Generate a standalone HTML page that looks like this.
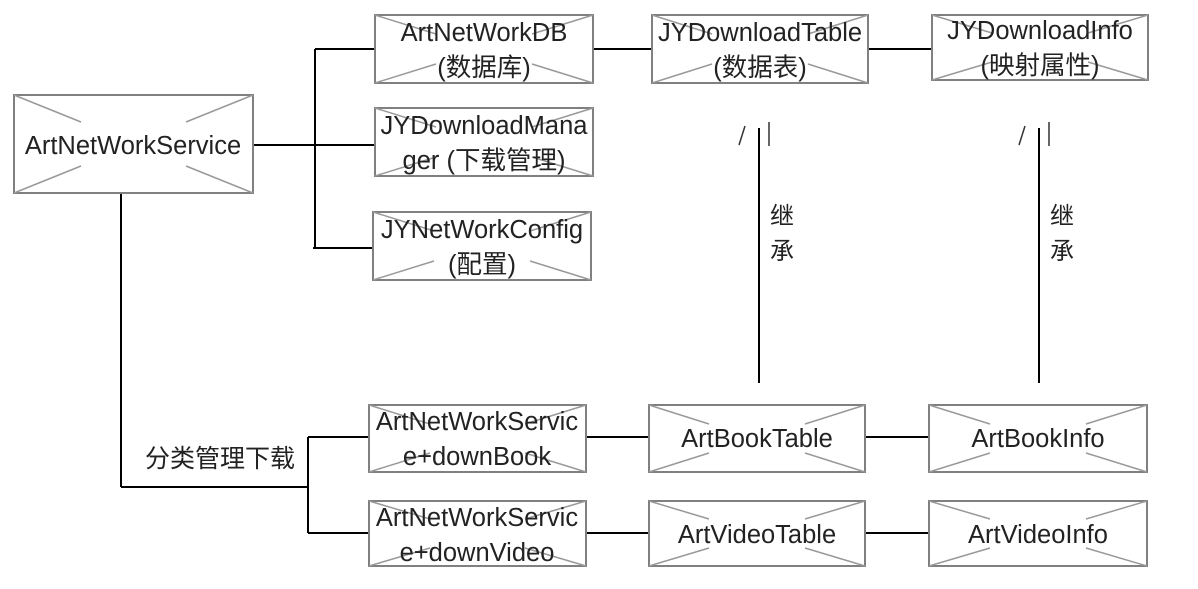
<!DOCTYPE html>
<html><head><meta charset="utf-8"><style>
html,body{margin:0;padding:0;background:#fff;}
svg text{font-family:"Liberation Sans","Noto Sans CJK SC",sans-serif;fill:#222;}
</style></head><body>
<svg width="1198" height="584" viewBox="0 0 1198 584" xmlns="http://www.w3.org/2000/svg">
<g stroke="#000" stroke-width="2" fill="none">
<line x1="253" y1="145" x2="375" y2="145"/>
<line x1="315" y1="49" x2="315" y2="248"/>
<line x1="315" y1="49" x2="375" y2="49"/>
<line x1="313" y1="248" x2="373" y2="248"/>
<line x1="593" y1="49" x2="652" y2="49"/>
<line x1="868" y1="49" x2="932" y2="49"/>
<line x1="759" y1="128" x2="759" y2="383"/>
<line x1="1039" y1="128" x2="1039" y2="383"/>
<line x1="121" y1="193" x2="121" y2="487"/>
<line x1="121" y1="487" x2="308" y2="487"/>
<line x1="308" y1="437" x2="308" y2="533"/>
<line x1="308" y1="437" x2="369" y2="437"/>
<line x1="308" y1="533" x2="369" y2="533"/>
<line x1="586" y1="437" x2="649" y2="437"/>
<line x1="865" y1="437" x2="929" y2="437"/>
<line x1="586" y1="533" x2="649" y2="533"/>
<line x1="865" y1="533" x2="929" y2="533"/>
</g>
<g stroke="#333" stroke-width="1.5">
<line x1="745" y1="126" x2="739" y2="145"/><line x1="769" y1="122" x2="769" y2="146"/>
<line x1="1025" y1="126" x2="1019" y2="145"/><line x1="1049" y1="122" x2="1049" y2="146"/>
</g>
<g font-size="24">
<text x="770" y="224">继</text><text x="770" y="259">承</text>
<text x="1050" y="224">继</text><text x="1050" y="259">承</text>
<text x="145" y="467" font-size="25">分类管理下载</text>
</g>
<g fill="#fff" stroke="#808080" stroke-width="2">
<rect x="14" y="95" width="239" height="98"/>
<rect x="375" y="15" width="218" height="68"/>
<rect x="375" y="108" width="218" height="68"/>
<rect x="373" y="212" width="218" height="68"/>
<rect x="652" y="15" width="216" height="68"/>
<rect x="932" y="15" width="216" height="65"/>
<rect x="369" y="405" width="217" height="67"/>
<rect x="649" y="405" width="216" height="67"/>
<rect x="929" y="405" width="218" height="67"/>
<rect x="369" y="501" width="217" height="65"/>
<rect x="649" y="501" width="216" height="65"/>
<rect x="929" y="501" width="218" height="65"/>
</g>
<g fill="none" stroke="#999" stroke-width="1.5">
<path d="M14 95l67 27M253 95l-67 27M14 193l67 -27M253 193l-67 -27"/>
<path d="M375 15l61 19M593 15l-61 19M375 83l61 -19M593 83l-61 -19"/>
<path d="M375 108l61 19M593 108l-61 19M375 176l61 -19M593 176l-61 -19"/>
<path d="M373 212l61 19M591 212l-61 19M373 280l61 -19M591 280l-61 -19"/>
<path d="M652 15l60 19M868 15l-60 19M652 83l60 -19M868 83l-60 -19"/>
<path d="M932 15l60 18M1148 15l-60 18M932 80l60 -18M1148 80l-60 -18"/>
<path d="M369 405l61 19M586 405l-61 19M369 472l61 -19M586 472l-61 -19"/>
<path d="M649 405l60 19M865 405l-60 19M649 472l60 -19M865 472l-60 -19"/>
<path d="M929 405l61 19M1147 405l-61 19M929 472l61 -19M1147 472l-61 -19"/>
<path d="M369 501l61 18M586 501l-61 18M369 566l61 -18M586 566l-61 -18"/>
<path d="M649 501l60 18M865 501l-60 18M649 566l60 -18M865 566l-60 -18"/>
<path d="M929 501l61 18M1147 501l-61 18M929 566l61 -18M1147 566l-61 -18"/>
</g>
<g font-size="25.5" text-anchor="middle">
<text x="133" y="154">ArtNetWorkService</text>
<text x="484" y="41">ArtNetWorkDB</text><text x="484" y="76">(数据库)</text>
<text x="484" y="134">JYDownloadMana</text><text x="484" y="169">ger (下载管理)</text>
<text x="482" y="238">JYNetWorkConfig</text><text x="482" y="273">(配置)</text>
<text x="760" y="41">JYDownloadTable</text><text x="760" y="76">(数据表)</text>
<text x="1040" y="39">JYDownloadInfo</text><text x="1040" y="74">(映射属性)</text>
<text x="477" y="430">ArtNetWorkServic</text><text x="477" y="465">e+downBook</text>
<text x="757" y="447">ArtBookTable</text>
<text x="1038" y="447">ArtBookInfo</text>
<text x="477" y="526">ArtNetWorkServic</text><text x="477" y="561">e+downVideo</text>
<text x="757" y="543">ArtVideoTable</text>
<text x="1038" y="543">ArtVideoInfo</text>
</g>
</svg>
</body></html>
